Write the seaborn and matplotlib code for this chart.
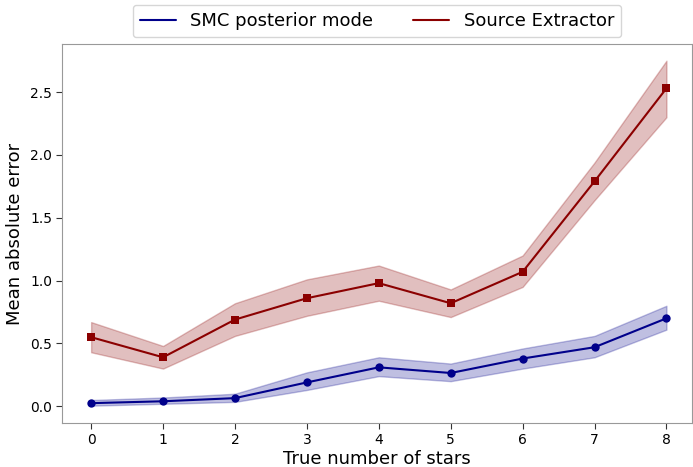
import matplotlib
matplotlib.use("Agg")
import matplotlib.pyplot as plt
import seaborn as sns
import numpy as np
import pandas as pd

stars = [0, 1, 2, 3, 4, 5, 6, 7, 8]
smc_mean = [0.025, 0.04, 0.065, 0.19, 0.31, 0.265, 0.38, 0.47, 0.70]
smc_low = [0.005, 0.02, 0.035, 0.13, 0.24, 0.20, 0.30, 0.39, 0.61]
smc_high = [0.05, 0.07, 0.10, 0.27, 0.39, 0.34, 0.46, 0.56, 0.80]
sex_mean = [0.55, 0.39, 0.69, 0.86, 0.98, 0.82, 1.07, 1.79, 2.53]
sex_low = [0.43, 0.30, 0.56, 0.72, 0.84, 0.71, 0.95, 1.64, 2.30]
sex_high = [0.67, 0.48, 0.82, 1.01, 1.12, 0.93, 1.20, 1.94, 2.75]

sns.set_style("white")
plt.rcParams['font.family'] = ['DejaVu Sans']
plt.rcParams['text.color'] = 'black'
plt.rcParams['axes.labelcolor'] = 'black'
plt.rcParams['xtick.color'] = 'black'
plt.rcParams['ytick.color'] = 'black'

fig, ax = plt.subplots(figsize=(6.93, 4.67), dpi=100)

df = pd.DataFrame({"stars": stars, "smc": smc_mean, "sex": sex_mean})

sns.lineplot(data=df, x="stars", y="smc", ax=ax, color="darkblue", marker="o",
             markersize=6, markeredgewidth=0, label="SMC posterior mode", linewidth=1.5)
ax.fill_between(stars, smc_low, smc_high, color="darkblue", alpha=0.25)
sns.lineplot(data=df, x="stars", y="sex", ax=ax, color="darkred", marker="s",
             markersize=6, markeredgewidth=0, label="Source Extractor", linewidth=1.5)
ax.fill_between(stars, sex_low, sex_high, color="darkred", alpha=0.25)

ax.set_xlabel("True number of stars", fontsize=13, labelpad=2)
ax.set_ylabel("Mean absolute error", fontsize=13)
ax.set_xticks(stars)
ax.set_yticks([0.0, 0.5, 1.0, 1.5, 2.0, 2.5])
ax.tick_params(axis="both", labelsize=10, bottom=True, left=True, length=4,
               color="#333333", labelcolor="black")
ax.set_xlim(-0.4, 8.35)
ax.set_ylim(-0.13, 2.88)
for s in ax.spines.values():
    s.set_color("#999999")

leg = ax.legend(loc="lower center", bbox_to_anchor=(0.5, 0.995), ncol=2, fontsize=13,
                frameon=True, handlelength=2.0, columnspacing=2.2, borderpad=0.4)
for line in leg.get_lines():
    line.set_marker("")
for t in leg.get_texts():
    t.set_color("black")

fig.subplots_adjust(left=0.09, right=0.998, top=0.905, bottom=0.095)
fig.savefig("out.png", dpi=100)
